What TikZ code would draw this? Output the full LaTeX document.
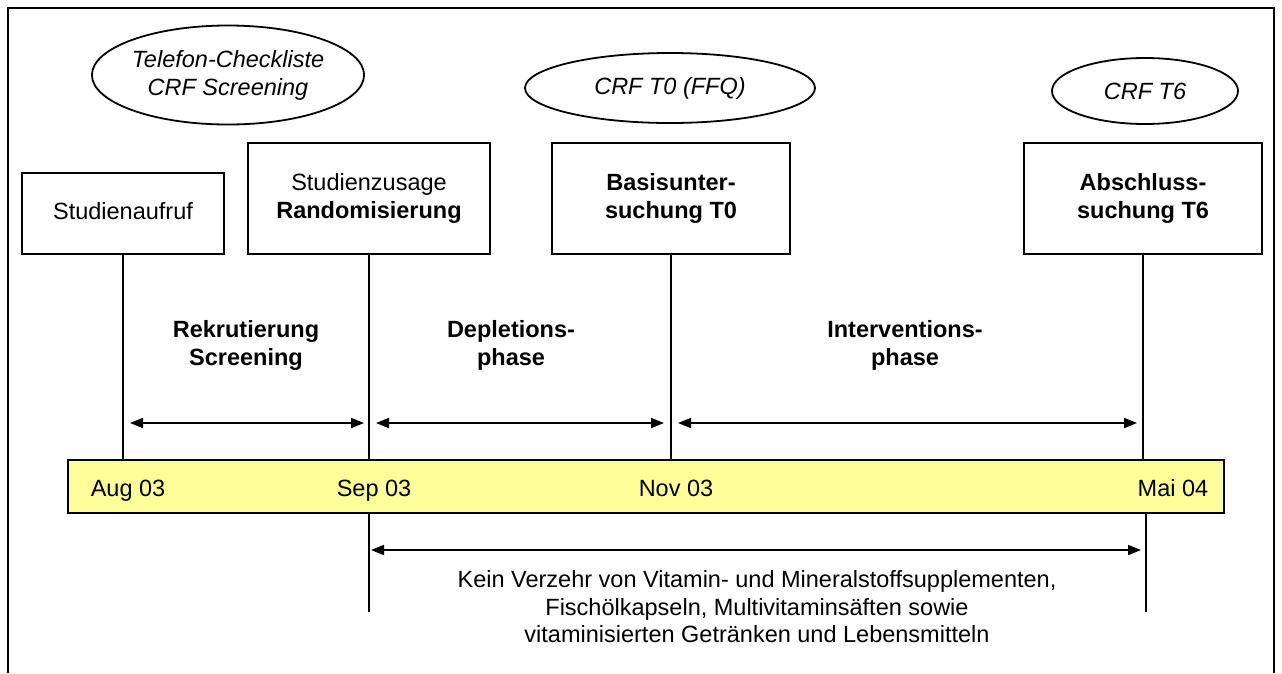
\documentclass[tikz,border=0pt]{standalone}
\usepackage{fontspec}
\setmainfont{Liberation Sans}
\usetikzlibrary{arrows.meta,shapes.geometric}
\definecolor{baryellow}{HTML}{FFFF99}
\tikzset{
  lw/.style={line width=1.8pt},
  txt/.style={font=\fontsize{23.5}{28}\selectfont, align=center, inner sep=0pt},
  datelbl/.style={txt, anchor=base},
  boxnode/.style={lw, draw, rectangle, txt},
  ell/.style={lw, draw, ellipse, txt, font=\fontsize{23.5}{28}\selectfont\itshape, inner sep=0pt},
  dbl/.style={lw, {Triangle[length=13pt,width=10pt]}-{Triangle[length=13pt,width=10pt]}},
}
\begin{document}
\begin{tikzpicture}[x=1pt,y=-1pt]
\useasboundingbox (0,0) rectangle (1282,673);
% frame (open at bottom)
\draw[lw] (8,673) -- (8,8) -- (1274,8) -- (1274,673);

% ellipses
\node[ell, minimum width=271pt, minimum height=99pt] (e1) at (228,75) {Telefon-Checkliste\\CRF Screening};
\node[ell, minimum width=290pt, minimum height=70pt] (e2) at (670,88) {CRF T0 (FFQ)};
\node[ell, minimum width=186pt, minimum height=66pt] (e3) at (1145,91) {CRF T6};

% boxes
\node[boxnode, minimum width=202pt, minimum height=81pt] (b1) at (123,213.5) {\strut Studienaufruf};
\node[boxnode, minimum width=242pt, minimum height=111pt] (b2) at (369,198.5) {Studienzusage\\\textbf{Randomisierung}};
\node[boxnode, minimum width=238pt, minimum height=111pt] (b3) at (671,198.5) {\textbf{Basisunter-}\\\textbf{suchung T0}};
\node[boxnode, minimum width=238pt, minimum height=111pt] (b4) at (1143,198.5) {\textbf{Abschluss-}\\\textbf{suchung T6}};

% timeline bar
\node[lw, draw, fill=baryellow, minimum width=1156pt, minimum height=53pt, inner sep=0pt] (bar) at (646,486.5) {};
\node[datelbl] (d1) at (128,496) {Aug 03};
\node[datelbl] (d2) at (374,496) {Sep 03};
\node[datelbl] (d3) at (676,496) {Nov 03};
\node[datelbl] (d4) at (1173,496) {Mai 04};

% vertical lines boxes -> bar
\draw[lw] (b1.south) -- (b1.south |- bar.north);
\draw[lw] (b2.south) -- (b2.south |- bar.north);
\draw[lw] (b3.south) -- (b3.south |- bar.north);
\draw[lw] (b4.south) -- (b4.south |- bar.north);

% lower lines
\coordinate (l1) at (369,612);
\coordinate (l2) at (1146,612);
\draw[lw] (l1 |- bar.south) -- (l1);
\draw[lw] (l2 |- bar.south) -- (l2);

% phase arrows
\coordinate (a1s) at (130,423);
\coordinate (a1e) at (364,423);
\coordinate (a2s) at (376,423);
\coordinate (a2e) at (664,423);
\coordinate (a3s) at (678,423);
\coordinate (a3e) at (1137,423);
\draw[dbl] (a1s) -- (a1e);
\draw[dbl] (a2s) -- (a2e);
\draw[dbl] (a3s) -- (a3e);

\node[txt, font=\fontsize{23.5}{28}\selectfont\bfseries] (p1) at (246,345) {Rekrutierung\\Screening};
\node[txt, font=\fontsize{23.5}{28}\selectfont\bfseries] (p2) at (511,345) {Depletions-\\phase};
\node[txt, font=\fontsize{23.5}{28}\selectfont\bfseries] (p3) at (905,345) {Interventions-\\phase};

% lower arrow
\coordinate (a4s) at (371,550);
\coordinate (a4e) at (1141,550);
\draw[dbl] (a4s) -- (a4e);
\node[txt, font=\fontsize{23.5}{27.5}\selectfont] (note) at (757,607) {Kein Verzehr von Vitamin- und Mineralstoffsupplementen,\\Fischölkapseln, Multivitaminsäften sowie\\vitaminisierten Getränken und Lebensmitteln};
\end{tikzpicture}
\end{document}
